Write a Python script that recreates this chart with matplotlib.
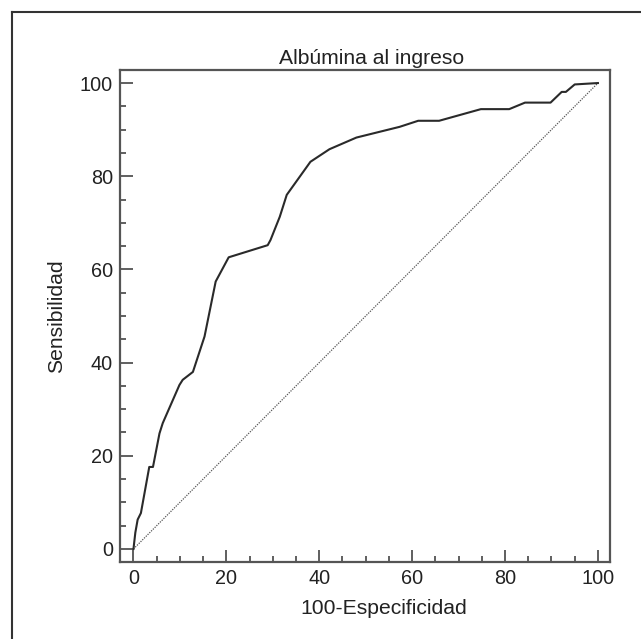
import matplotlib.pyplot as plt
from matplotlib.lines import Line2D
from matplotlib.ticker import MultipleLocator

plt.rcParams['font.family'] = ['Liberation Sans', 'DejaVu Sans']

# ROC curve
fpr = [0, 0.4, 0.9, 1.6, 3.4, 4.2, 5.6, 6.3, 9.9, 10.6, 12.8, 15.3, 17.7, 20.5,
       28.9, 29.5, 31.5, 33.0, 38.1, 42.2, 48.0, 57.3, 61.3, 65.8, 74.8, 80.9,
       84.3, 89.8, 92.2, 93.1, 95.0, 100]
tpr = [0, 3.5, 6.3, 7.7, 17.6, 17.6, 24.8, 27.0, 35.2, 36.3, 38.0, 45.6, 57.4, 62.6,
       65.2, 66.3, 71.3, 76.0, 83.1, 85.8, 88.3, 90.6, 91.9, 91.9, 94.4, 94.4,
       95.8, 95.8, 98.1, 98.1, 99.7, 100]
ref = [0, 100]

title = 'Albúmina al ingreso'
xlabel = '100-Especificidad'
ylabel = 'Sensibilidad'

fig = plt.figure(figsize=(6.41, 6.39), dpi=100)
ax = fig.add_axes([120 / 641, 1 - 562 / 639, 490 / 641, 492 / 639])

ax.plot(ref, ref, color='#555555', lw=0.9, ls=(0, (1, 1)))
ax.plot(fpr, tpr, color='#2a2a2a', lw=1.5)

ax.set_xlim(-2.9, 102.6)
ax.set_ylim(-2.8, 102.8)
ax.xaxis.set_major_locator(MultipleLocator(20))
ax.xaxis.set_minor_locator(MultipleLocator(5))
ax.yaxis.set_major_locator(MultipleLocator(20))
ax.yaxis.set_minor_locator(MultipleLocator(5))
ax.tick_params(which='both', direction='in', color='#444444', width=1.2,
               labelsize=14.3, labelcolor='#222222', pad=5)
ax.tick_params(which='major', length=9)
ax.tick_params(which='minor', length=4.5)
for s in ax.spines.values():
    s.set_color('#555555')
    s.set_linewidth(1.6)

ax.set_title(title, fontsize=15.2, color='#222222', pad=4)
ax.title.set_x(0.513)
ax.set_xlabel(xlabel, fontsize=15.2, color='#222222')
ax.xaxis.set_label_coords(0.539, -0.075)
ax.set_ylabel(ylabel, fontsize=15.2, color='#222222', labelpad=10)

# outer frame (only top and left edges visible in the original)
fx, fy = 12 / 641, 1 - 12 / 639
fig.add_artist(Line2D([fx, 1], [fy, fy], transform=fig.transFigure, color='#333333', lw=1.5))
fig.add_artist(Line2D([fx, fx], [0, fy], transform=fig.transFigure, color='#333333', lw=1.5))

fig.savefig('out.png', dpi=100)
